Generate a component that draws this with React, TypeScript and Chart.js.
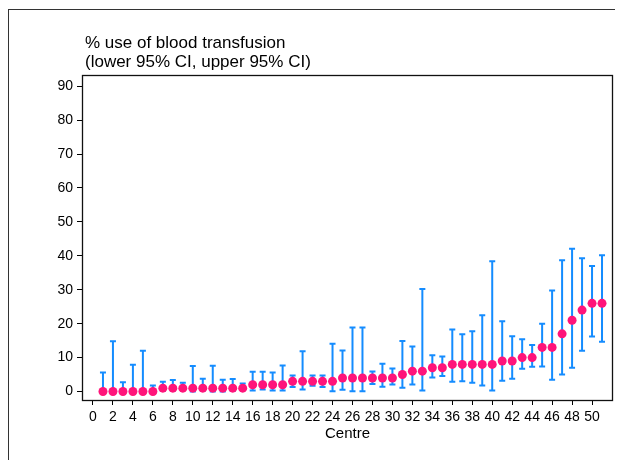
import React, { useEffect, useRef } from "react";
import { Chart, registerables } from "chart.js";

Chart.register(...registerables);

const centres = [
  1, 2, 3, 4, 5, 6, 7, 8, 9, 10, 11, 12, 13, 14, 15, 16, 17, 18, 19, 20, 21, 22, 23, 24, 25,
  26, 27, 28, 29, 30, 31, 32, 33, 34, 35, 36, 37, 38, 39, 40, 41, 42, 43, 44, 45, 46, 47, 48, 49, 50, 51,
];
const percentUse = [
  0, 0, 0, 0, 0, 0, 1, 1, 1, 1, 1, 1, 1, 1, 1, 2, 2, 2, 2, 3, 3, 3, 3, 3, 4,
  4, 4, 4, 4, 4, 5, 6, 6, 7, 7, 8, 8, 8, 8, 8, 9, 9, 10, 10, 13, 13, 17, 21, 24, 26, 26,
];
const lowerCI = [
  0, 0, 0, 0, 0, 0, 0.2, 0.3, 0.5, 0, 0.3, 0, 0, 0.2, 0.5, 0.3, 0.6, 0.3, 0.3, 1.3, 0.6, 1.7, 1.3, 0.1, 0.5,
  0.1, 0.1, 2.2, 1.4, 2.1, 1.1, 2.1, 0.3, 4.1, 4.6, 2.9, 3.0, 2.6, 1.8, 0.3, 3.2, 3.8, 6.7, 7.3, 7.4, 3.5, 5.0, 7.0, 12.0, 16.2, 14.7,
];
const upperCI = [
  5.6, 14.8, 2.7, 7.9, 12.0, 1.8, 2.9, 3.4, 2.6, 7.5, 3.8, 7.6, 3.5, 3.7, 2.4, 5.8, 5.8, 5.6, 7.7, 4.7, 11.9, 4.7, 4.7, 14.1, 12.1,
  18.9, 18.9, 5.9, 8.2, 6.8, 14.9, 13.3, 30.2, 10.7, 10.3, 18.3, 16.9, 17.8, 22.5, 38.4, 20.7, 16.3, 15.4, 13.7, 20.0, 29.8, 38.7, 42.1, 39.3, 37.0, 40.2,
];
const xTickValues = [0, 2, 4, 6, 8, 10, 12, 14, 16, 18, 20, 22, 24, 26, 28, 30, 32, 34, 36, 38, 40, 42, 44, 46, 48, 50];
const yTickValues = [0, 10, 20, 30, 40, 50, 60, 70, 80, 90];
const titleLines = ["% use of blood transfusion", "(lower 95% CI, upper 95% CI)"];
const xAxisTitle = "Centre";

const PINK = "rgb(255, 20, 122)";
const BLUE = "rgb(20, 140, 255)";
const FONT = "Arial, 'Liberation Sans', sans-serif";

const errorBarPlugin = {
  id: "errorBars",
  beforeDatasetsDraw(chart: any) {
    const { ctx, scales } = chart;
    const xs = scales.x;
    const ys = scales.y;
    ctx.save();
    ctx.strokeStyle = BLUE;
    ctx.lineWidth = 2;
    const cap = 3;
    centres.forEach((c, i) => {
      const x = xs.getPixelForValue(c);
      const yl = ys.getPixelForValue(lowerCI[i]);
      const yu = ys.getPixelForValue(upperCI[i]);
      ctx.beginPath();
      ctx.moveTo(x, yl);
      ctx.lineTo(x, yu);
      ctx.moveTo(x - cap, yu);
      ctx.lineTo(x + cap, yu);
      ctx.moveTo(x - cap, yl);
      ctx.lineTo(x + cap, yl);
      ctx.stroke();
    });
    ctx.restore();
  },
};

const framePlugin = {
  id: "frameAndTitle",
  afterDraw(chart: any) {
    const { ctx, chartArea } = chart;
    ctx.save();
    ctx.strokeStyle = "#111";
    ctx.lineWidth = 1.3;
    const l = Math.round(chartArea.left) - 0.5;
    const t = Math.round(chartArea.top) - 0.5;
    const r = Math.round(chartArea.right) + 0.5;
    const b = Math.round(chartArea.bottom) + 0.5;
    ctx.strokeRect(l, t, r - l, b - t);
    ctx.fillStyle = "#000";
    ctx.font = `17px ${FONT}`;
    ctx.textAlign = "left";
    ctx.textBaseline = "alphabetic";
    ctx.fillText(titleLines[0], chartArea.left + 2, chartArea.top - 28);
    ctx.fillText(titleLines[1], chartArea.left + 2, chartArea.top - 9);
    ctx.restore();
  },
};

export default function App() {
  const ref = useRef<HTMLCanvasElement | null>(null);
  useEffect(() => {
    document.documentElement.style.overflow = "hidden";
    document.body.style.overflow = "hidden";
    const canvas = ref.current;
    if (!canvas) return;
    const chart = new Chart(canvas, {
      type: "scatter",
      data: {
        datasets: [
          {
            data: centres.map((c, i) => ({ x: c, y: percentUse[i] })),
            backgroundColor: PINK,
            borderColor: PINK,
            pointRadius: 4.5,
            pointBorderWidth: 0,
          },
        ],
      },
      options: {
        responsive: false,
        animation: false,
        layout: { padding: { left: 0, right: 11, top: 66, bottom: 0 } },
        plugins: { legend: { display: false }, tooltip: { enabled: false }, title: { display: false } },
        scales: {
          x: {
            type: "linear",
            min: -1,
            max: 52,
            afterBuildTicks: (scale: any) => {
              scale.ticks = xTickValues.map((v) => ({ value: v }));
            },
            afterFit: (scale: any) => {
              scale.height = 61;
            },
            grid: { drawOnChartArea: false, drawTicks: true, tickLength: 5, tickColor: "#000", tickWidth: 1 },
            border: { display: false },
            ticks: {
              autoSkip: false,
              maxRotation: 0,
              padding: 4,
              color: "#000",
              font: { family: FONT, size: 14 },
            },
            title: {
              display: true,
              text: xAxisTitle,
              color: "#000",
              font: { family: FONT, size: 15 },
              padding: { top: 0, bottom: 18 },
            },
          },
          y: {
            type: "linear",
            min: -2.5,
            max: 93,
            afterBuildTicks: (scale: any) => {
              scale.ticks = yTickValues.map((v) => ({ value: v }));
            },
            afterFit: (scale: any) => {
              scale.width = 74;
            },
            grid: { drawOnChartArea: false, drawTicks: true, tickLength: 6, tickColor: "#000", tickWidth: 1 },
            border: { display: false },
            ticks: {
              padding: 4,
              color: "#000",
              font: { family: FONT, size: 14 },
            },
          },
        },
      },
      plugins: [errorBarPlugin, framePlugin],
    });
    return () => chart.destroy();
  }, []);

  return (
    <div
      style={{
        borderLeft: "1px solid #333",
        borderTop: "1px solid #333",
        width: 614,
        height: 451,
        marginTop: 1,
      }}
    >
      <canvas ref={ref} width={614} height={451} style={{ display: "block" }} />
    </div>
  );
}
